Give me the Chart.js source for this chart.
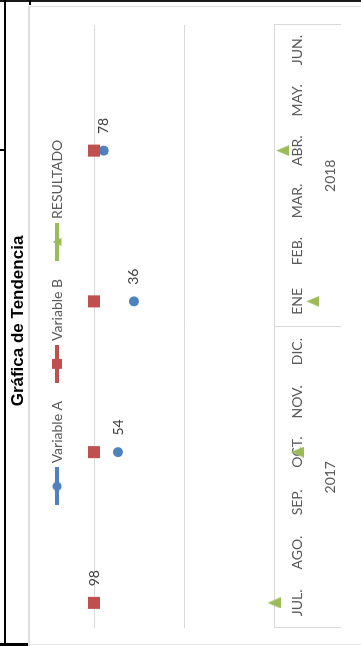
<!DOCTYPE html>
<html lang="es">
<head>
<meta charset="utf-8">
<title>Gráfica de Tendencia</title>
<script src="https://cdn.jsdelivr.net/npm/chart.js@4/dist/chart.umd.min.js"></script>
<style>
  html, body { margin: 0; padding: 0; background: #fff; }
  body { width: 361px; height: 646px; position: relative; overflow: hidden; }
  .rule { position: absolute; }
  /* the chart is laid out landscape and turned a quarter turn to sit in the portrait page */
  #frame {
    position: absolute; left: 0; top: 0;
    width: 646px; height: 361px;
    transform-origin: 0 0;
    transform: translate(0, 646px) rotate(-90deg);
  }
</style>
</head>
<body>
<!-- sheet cell borders around the chart -->
<div class="rule" style="left:0;top:0;width:361px;height:2px;background:#1a1a1a"></div>
<div class="rule" style="left:4px;top:0;width:2px;height:646px;background:#000"></div>
<div class="rule" style="left:29px;top:0;width:2px;height:5px;background:#000"></div>
<div class="rule" style="left:0;top:149px;width:5px;height:2px;background:#000"></div>
<div class="rule" style="left:0;top:643px;width:29px;height:3px;background:#000"></div>
<!-- chart border -->
<div class="rule" style="left:28px;top:6px;width:2px;height:640px;background:#dedede"></div>
<div class="rule" style="left:28px;top:6px;width:333px;height:1px;background:#dedede"></div>
<div class="rule" style="left:28px;top:644px;width:333px;height:1px;background:#e6e6e6"></div>

<div id="frame"><canvas id="chart"></canvas></div>

<script>
// Months of the period (Jul 2017 - Jun 2018)
const months = ['JUL.', 'AGO.', 'SEP.', 'OCT.', 'NOV.', 'DIC.', 'ENE', 'FEB.', 'MAR.', 'ABR.', 'MAY.', 'JUN.'];
const years = ['2017', '2018'];

// Quarterly measurements
const variableA = [98, null, null, 54, null, null, 36, null, null, 78, null, null];
const variableB = [100, null, null, 100, null, null, 100, null, null, 100, null, null];
const resultado = [1, null, null, 0.55, null, null, 0.37, null, null, 0.8, null, null];

// Logarithmic value axis: one gridline per decade
const valueTicks = [1, 10, 100];

const BLUE = '#4F81BD';
const RED = '#C0504D';
const GREEN = '#9BBB59';
const TEXT_FONT = "Lato, 'Liberation Sans', sans-serif";
const TITLE_FONT = "'Liberation Sans', Arial, sans-serif";

Chart.defaults.font.family = TEXT_FONT;
Chart.defaults.color = '#595959';

function makeCanvas(w, h, paint) {
  const c = document.createElement('canvas');
  c.width = w; c.height = h;
  paint(c.getContext('2d'));
  return c;
}

// Triangle marker, slightly taller than wide
const triangleMark = makeCanvas(11, 13, g => {
  g.fillStyle = GREEN;
  g.beginPath();
  g.moveTo(5.5, 0); g.lineTo(11, 13); g.lineTo(0, 13);
  g.closePath(); g.fill();
});

// Legend keys: line segment with the series marker on it
function legendKey(color, mark) {
  return makeCanvas(38, 12, g => {
    g.fillStyle = color;
    g.fillRect(0, 4, 38, 4);
    g.beginPath();
    mark(g);
    g.fill();
  });
}
const legendKeys = [
  legendKey(BLUE, g => g.arc(19, 6, 4.5, 0, Math.PI * 2)),
  legendKey(RED, g => g.rect(14, 1, 10, 10)),
  legendKey(GREEN, g => { g.moveTo(19, 1.5); g.lineTo(23, 10.5); g.lineTo(15, 10.5); g.closePath(); })
];

// Markers of unclipped series that fall beyond the plot area (below the axis minimum)
const overflowMarkers = {
  id: 'overflowMarkers',
  afterDatasetsDraw(chart) {
    const area = chart.chartArea;
    chart.data.datasets.forEach((ds, di) => {
      if (ds.clip !== false) return;
      chart.getDatasetMeta(di).data.forEach(pt => {
        if (pt.skip) return;
        const m = pt.size() / 2;
        const inside = pt.x > area.left - m && pt.x < area.right + m &&
                       pt.y > area.top - m && pt.y < area.bottom + m;
        if (!inside) pt.draw(chart.ctx);
      });
    });
  }
};

// Value labels to the right of each Variable A point
const valueLabels = {
  id: 'valueLabels',
  afterDatasetsDraw(chart) {
    const ctx = chart.ctx;
    const meta = chart.getDatasetMeta(0);
    ctx.save();
    ctx.font = '14px ' + TEXT_FONT;
    ctx.fillStyle = '#404040';
    ctx.textAlign = 'left';
    ctx.textBaseline = 'middle';
    meta.data.forEach((pt, i) => {
      const v = variableA[i];
      if (v === null || v === undefined) return;
      ctx.fillText(String(v), pt.x + 16.5, pt.y);
    });
    ctx.restore();
  }
};

new Chart(document.getElementById('chart'), {
  type: 'line',
  data: {
    labels: months,
    datasets: [
      {
        label: 'Variable A', data: variableA, order: 2,
        xAxisID: 'x', yAxisID: 'y',
        borderColor: BLUE, backgroundColor: BLUE, borderWidth: 3,
        pointStyle: 'circle', pointRadius: 5, pointBorderWidth: 0,
        clip: false
      },
      {
        label: 'Variable B', data: variableB, order: 1,
        xAxisID: 'x', yAxisID: 'y',
        borderColor: RED, backgroundColor: RED, borderWidth: 3,
        pointStyle: 'rect', pointRadius: 8.5, pointBorderWidth: 0,
        clip: false
      },
      {
        label: 'RESULTADO', data: resultado, order: 0,
        xAxisID: 'x', yAxisID: 'y',
        borderColor: GREEN, backgroundColor: GREEN, borderWidth: 3,
        pointStyle: triangleMark, pointRadius: 7, pointBorderWidth: 0,
        clip: false
      }
    ]
  },
  options: {
    responsive: true,
    maintainAspectRatio: false,
    animation: false,
    events: [],
    devicePixelRatio: 1,
    layout: { padding: { left: 18, right: 14, top: 0, bottom: 5 } },
    plugins: {
      tooltip: { enabled: false },
      title: {
        display: true,
        text: 'Gráfica de Tendencia',
        color: '#000',
        font: { family: TITLE_FONT, size: 17, weight: 'bold' },
        padding: { top: 8.6, bottom: 0 }
      },
      subtitle: {
        display: true, text: '', weight: 500,
        font: { size: 10 },
        padding: { top: 0, bottom: 8 }
      },
      legend: {
        display: true,
        position: 'top',
        labels: {
          usePointStyle: true,
          pointStyleWidth: 32,
          padding: 21,
          color: '#595959',
          font: { size: 14 },
          generateLabels: chart => chart.data.datasets.map((ds, i) => ({
            text: ds.label,
            pointStyle: legendKeys[i],
            fillStyle: ds.backgroundColor,
            strokeStyle: ds.borderColor,
            lineWidth: 0,
            hidden: false,
            datasetIndex: i,
            fontColor: '#595959'
          }))
        }
      }
    },
    scales: {
      x: {
        type: 'category',
        position: 'bottom',
        weight: 0,
        offset: true,
        grid: {
          offset: true,
          drawOnChartArea: false,
          drawTicks: true,
          tickLength: 67,
          lineWidth: 1,
          // dividers only at the period start, the year change and the period end
          color: c => (c.index === undefined || c.index % 6 === 0) ? '#d9d9d9' : 'rgba(0,0,0,0)'
        },
        border: { display: true, color: '#d9d9d9', width: 1 },
        ticks: {
          color: '#595959', font: { size: 14 },
          padding: -52.4, autoSkip: false, maxRotation: 0, minRotation: 0
        },
        afterFit: s => { s.height = 30; }
      },
      x2: {
        type: 'category',
        labels: years,
        position: 'bottom',
        weight: 1,
        offset: true,
        grid: { display: false, drawTicks: false },
        border: { display: false },
        ticks: {
          color: '#595959', font: { size: 14 },
          padding: 17.6, autoSkip: false, maxRotation: 0, minRotation: 0
        }
      },
      y: {
        type: 'logarithmic',
        position: 'right',
        min: 1,
        max: 100,
        afterBuildTicks: s => { s.ticks = valueTicks.map(v => ({ value: v })); },
        grid: { color: '#d9d9d9', drawTicks: false, lineWidth: 1 },
        border: { display: false },
        ticks: { display: false },
        afterFit: s => { s.width = 11; }
      }
    }
  },
  plugins: [overflowMarkers, valueLabels]
});
</script>
</body>
</html>
